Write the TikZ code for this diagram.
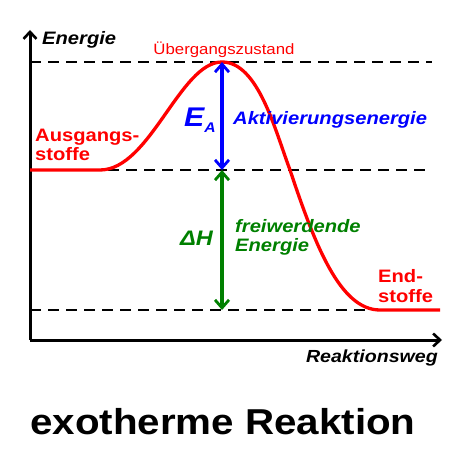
\documentclass[tikz,border=0pt]{standalone}
\usepackage{fontspec}
\setmainfont{Liberation Sans}[FakeStretch=1.12]
\usetikzlibrary{arrows.meta}
\begin{document}
\begin{tikzpicture}[x=1pt,y=-1pt,
  axis/.style={line width=3pt,-{Straight Barb[length=7pt,width=13pt,line width=2.6pt]}},
  dashline/.style={line width=2.2pt,dash pattern=on 11pt off 7pt},
  curve/.style={red,line width=3.3pt},
  darr/.style={line width=3.2pt,{Straight Barb[length=8pt,width=14pt,line width=2.8pt]}-{Straight Barb[length=8pt,width=14pt,line width=2.8pt]}},
  lbl/.style={font=\bfseries\itshape\fontsize{18}{20}\selectfont,inner sep=0pt,anchor=base west},
  red lbl/.style={font=\bfseries\fontsize{18}{20}\selectfont,red,inner sep=0pt,anchor=base west}]
\useasboundingbox (0,0) rectangle (452,454);
\definecolor{dgreen}{RGB}{0,128,0}
\coordinate (o) at (30,340);
\coordinate (ytop) at (30,30);
\coordinate (xend) at (442,340);
\draw[axis] (o) -- (ytop);
\draw[axis] (o) -- (xend);
% dashed levels
\coordinate (d1a) at (30,62); \coordinate (d1b) at (432,62);
\coordinate (d2a) at (108,170); \coordinate (d2b) at (432,170);
\coordinate (d3a) at (30,310); \coordinate (d3b) at (372,310);
\draw[dashline] (d1a) -- (d1b);
\draw[dashline] (d2a) -- (d2b);
\draw[dashline] (d3a) -- (d3b);
% curve
\draw[curve] (30,170) -- (100,170) .. controls (150,170) and (180,62) .. (222,62)
  .. controls (258,62) and (275,130) .. (290,170)
  .. controls (315,245) and (340,310) .. (380,310) -- (440,310);
% arrows
\coordinate (pk) at (222,62);
\coordinate (mid) at (222,170);
\coordinate (low) at (222,310);
\draw[darr,blue] (pk) -- (mid);
\draw[darr,dgreen] (mid) -- (low);
% labels
\node[lbl] (en) at (42,45) {Energie};
\node[font=\fontsize{15}{16}\selectfont,red,anchor=base,inner sep=0pt] (ue) at (224,55) {Übergangszustand};
\node[red lbl] (ag1) at (35,142) {Ausgangs-};
\node[red lbl] (ag2) at (35,161) {stoffe};
\node[font=\bfseries\itshape\fontsize{27}{30}\selectfont,blue,anchor=base west,inner sep=0pt] (ea) at (184,127) {E\raisebox{-6pt}{\fontsize{14}{16}\selectfont A}};
\node[lbl,blue] (ak) at (233,125) {Aktivierungsenergie};
\node[font=\bfseries\itshape\fontsize{21}{24}\selectfont,dgreen,anchor=base west,inner sep=0pt] (dh) at (180,245) {ΔH};
\node[lbl,dgreen] (fr1) at (235,232) {freiwerdende};
\node[lbl,dgreen] (fr2) at (235,251) {Energie};
\node[red lbl] (es1) at (378,282) {End-};
\node[red lbl] (es2) at (378,302) {stoffe};
\node[lbl,anchor=base east,font=\bfseries\itshape\fontsize{17.5}{20}\selectfont] (rw) at (438,362) {Reaktionsweg};
\node[font=\bfseries\fontsize{36}{40}\selectfont,anchor=base west,inner sep=0pt] (ex) at (30,434) {exotherme Reaktion};
\end{tikzpicture}
\end{document}
